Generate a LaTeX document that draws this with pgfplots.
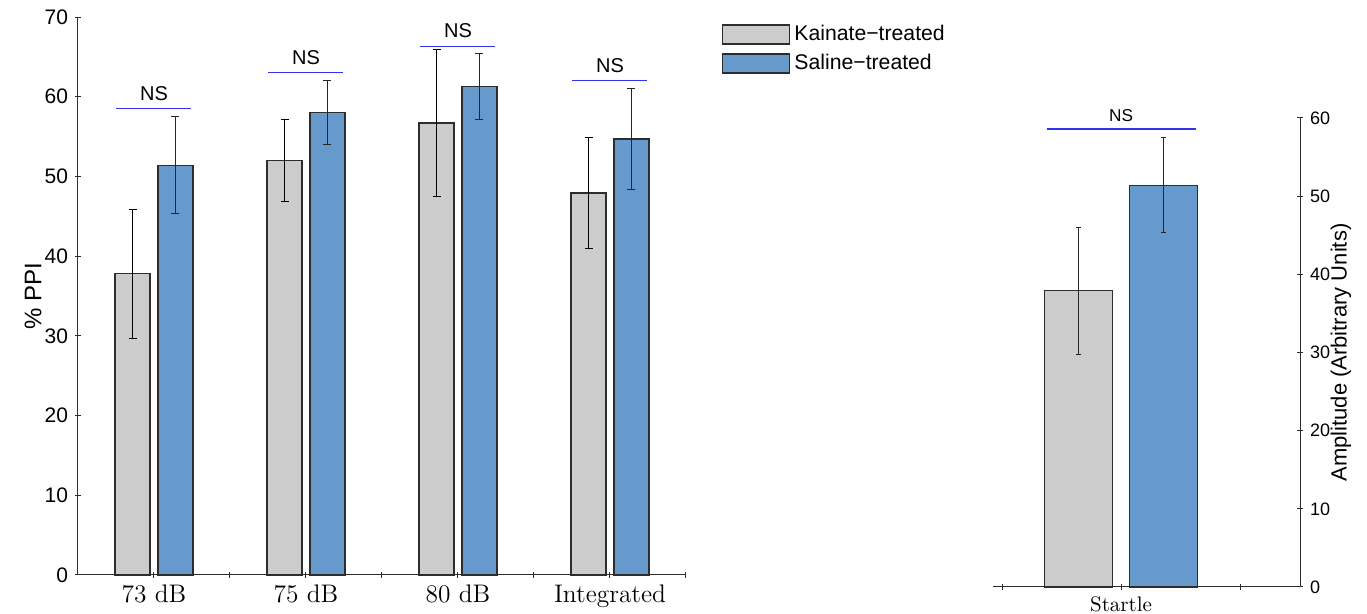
\documentclass[border=0pt]{standalone}
\usepackage{pgfplots}
\pgfplotsset{compat=1.18}
\usepackage{pgfplotstable}
\usepackage{fontspec}
\newfontfamily\hv{Liberation Sans}
\definecolor{kgray}{RGB}{204,204,204}
\definecolor{sblue}{RGB}{102,153,204}
\definecolor{nsblue}{RGB}{50,50,235}
\definecolor{edge}{RGB}{45,45,45}

% x = category position (73 dB=1, 75 dB=2, 80 dB=3, Integrated=4) shifted to the bar centre
\pgfplotstableread{
x y e
0.859 37.8 8.1
1.859 52.0 5.1
2.859 56.7 9.2
3.859 47.9 7.0
}\kainate
\pgfplotstableread{
x y e
1.141 51.4 6.1
2.141 58.0 4.0
3.141 61.3 4.1
4.141 54.7 6.3
}\saline
\pgfplotstableread{
x y e
0.822 37.9 8.1
}\kstartle
\pgfplotstableread{
x y e
1.178 51.4 6.1
}\sstartle

\begin{document}
\begin{tikzpicture}
\path[use as bounding box] (0,0) rectangle (683.5pt,307pt);
\begin{axis}[
  at={(39pt,19.5pt)}, anchor=south west,
  scale only axis, width=304pt, height=279pt,
  xmin=0.5, xmax=4.5, ymin=0, ymax=70,
  axis x line=bottom, axis y line=left,
  axis line style={-, edge, line width=0.5pt},
  xtick={1,2,3,4}, xticklabels={73 dB,75 dB,80 dB,Integrated},
  extra x ticks={1.5,2.5,3.5,4.5}, extra x tick labels={},
  ytick={0,10,...,70},
  major tick length=3pt, tick style={edge, line width=0.5pt},
  xticklabel style={font=\fontsize{12.7}{14}\selectfont},
  yticklabel style={font=\hv\fontsize{10.5}{12}\selectfont},
  /pgf/number format/assume math mode=true,
  ylabel={\% PPI},
  ylabel style={font=\hv\fontsize{12}{14}\selectfont, at={(axis description cs:-0.074,0.5)}, anchor=center},
  clip=false,
  legend style={draw=none, fill=none, at={(axis description cs:1.059,0.993)}, anchor=north west,
    font=\hv\fontsize{10.6}{12}\selectfont, inner sep=0pt, row sep=1.3pt},
  legend cell align=left,
]
\addplot[ybar, bar width=0.23, bar shift=0pt, fill=kgray, draw=edge, line width=0.7pt,
  legend image code/.code={\draw[fill=kgray, draw=edge, line width=0.6pt] (0pt,-4.75pt) rectangle (33.5pt,4.75pt);},
  error bars/.cd, y dir=both, y explicit,
  error bar style={black, line width=0.5pt},
  error mark options={rotate=90, mark size=2pt, black, line width=0.5pt}]
  table[x=x, y=y, y error=e]{\kainate};
\addlegendentry{Kainate−treated}
\addplot[ybar, bar width=0.23, bar shift=0pt, fill=sblue, draw=edge, line width=0.7pt,
  legend image code/.code={\draw[fill=sblue, draw=edge, line width=0.6pt] (0pt,-4.75pt) rectangle (33.5pt,4.75pt);},
  error bars/.cd, y dir=both, y explicit,
  error bar style={black!85, line width=0.5pt},
  error mark options={rotate=90, mark size=2pt, black!85, line width=0.5pt}]
  table[x=x, y=y, y error=e]{\saline};
\addlegendentry{Saline−treated}
\addplot[nsblue, line width=0.6pt, forget plot] coordinates {(0.75,58.5) (1.245,58.5)};
\addplot[nsblue, line width=0.6pt, forget plot] coordinates {(1.75,63.0) (2.245,63.0)};
\addplot[nsblue, line width=0.6pt, forget plot] coordinates {(2.75,66.3) (3.245,66.3)};
\addplot[nsblue, line width=0.6pt, forget plot] coordinates {(3.75,62.0) (4.245,62.0)};
\node[font=\hv\fontsize{10}{12}\selectfont, anchor=south, inner sep=0pt, yshift=4pt] at (axis cs:1,58.5) {NS};
\node[font=\hv\fontsize{10}{12}\selectfont, anchor=south, inner sep=0pt, yshift=4pt] at (axis cs:2,63.0) {NS};
\node[font=\hv\fontsize{10}{12}\selectfont, anchor=south, inner sep=0pt, yshift=4pt] at (axis cs:3,66.3) {NS};
\node[font=\hv\fontsize{10}{12}\selectfont, anchor=south, inner sep=0pt, yshift=4pt] at (axis cs:4,62.0) {NS};
\end{axis}

\begin{axis}[
  at={(496.5pt,13.5pt)}, anchor=south west,
  scale only axis, width=153.5pt, height=234.5pt,
  xmin=0.462, xmax=1.752, ymin=0, ymax=60,
  axis x line=bottom, axis y line=right,
  axis line style={-, edge, line width=0.5pt},
  xtick={0.5,1,1.5}, xticklabels={,Startle,},
  ytick={0,10,...,60},
  major tick length=3pt, tick style={edge, line width=0.5pt},
  xticklabel style={font=\fontsize{10.5}{12}\selectfont},
  yticklabel style={font=\hv\fontsize{9}{11}\selectfont},
  /pgf/number format/assume math mode=true,
  ylabel={Amplitude (Arbitrary Units)},
  ylabel style={font=\hv\fontsize{11}{13}\selectfont, at={(axis description cs:1.1336,0.5)}, anchor=center},
  clip=false,
]
\addplot[ybar, bar width=0.286, bar shift=0pt, fill=kgray, draw=edge, line width=0.7pt,
  error bars/.cd, y dir=both, y explicit,
  error bar style={black!85, line width=0.5pt},
  error mark options={rotate=90, mark size=1.1pt, black!85, line width=0.5pt}]
  table[x=x, y=y, y error=e]{\kstartle};
\addplot[ybar, bar width=0.286, bar shift=0pt, fill=sblue, draw=edge, line width=0.7pt,
  error bars/.cd, y dir=both, y explicit,
  error bar style={black!85, line width=0.5pt},
  error mark options={rotate=90, mark size=1.1pt, black!85, line width=0.5pt}]
  table[x=x, y=y, y error=e]{\sstartle};
\addplot[nsblue, line width=0.6pt] coordinates {(0.689,58.6) (1.315,58.6)};
\node[font=\hv\fontsize{8.6}{10}\selectfont, anchor=south, inner sep=0pt, yshift=3.5pt] at (axis cs:1,58.6) {NS};
\end{axis}
\end{tikzpicture}
\end{document}
